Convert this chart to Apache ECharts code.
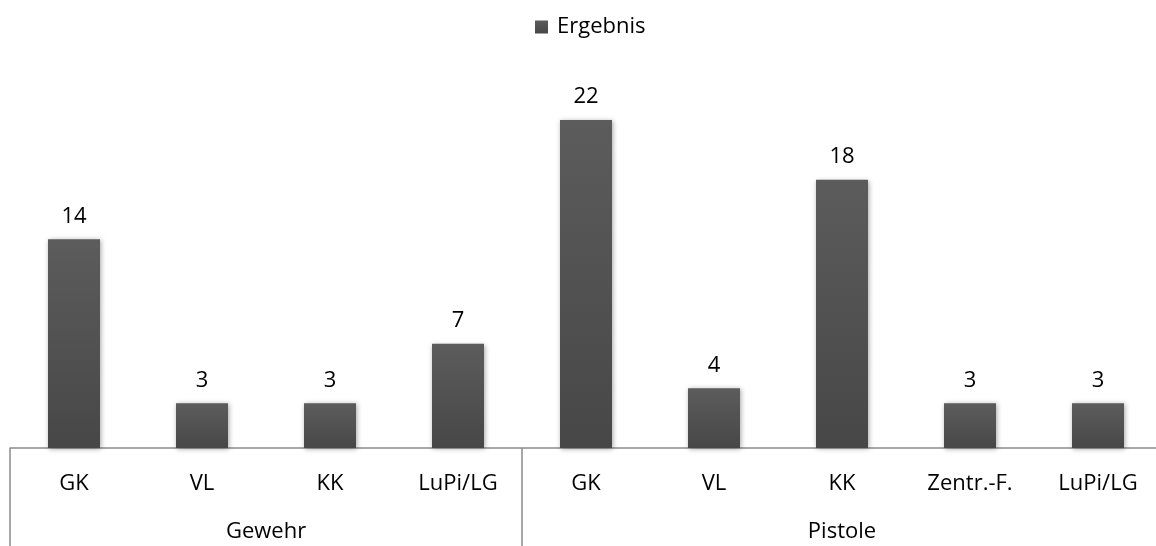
<!DOCTYPE html>
<html><head><meta charset="utf-8">
<script src="https://cdn.jsdelivr.net/npm/echarts@6/dist/echarts.min.js"></script>
<style>html,body{margin:0;padding:0;background:#fff}#c{width:1156px;height:546px}</style>
</head><body><div id="c"></div>
<script>
const categories = ["GK","VL","KK","LuPi/LG","GK","VL","KK","Zentr.-F.","LuPi/LG"];
const values = [14,3,3,7,22,4,18,3,3];
const groups = ["Gewehr","Pistole"];
const groupSizes = [4,5];
const seriesName = "Ergebnis";

const bounds = [0]; groupSizes.forEach(s => bounds.push(bounds[bounds.length-1] + s));
const centers = groupSizes.map((s,i) => bounds[i] + s/2);
const FONT = "'Open Sans', Lato, sans-serif";
const FS = 22;

const barColor = new echarts.graphic.LinearGradient(0,0,0,1,[{offset:0,color:'#5c5c5c'},{offset:1,color:'#474747'}]);

const chart = echarts.init(document.getElementById('c'));
chart.setOption({
  animation: false,
  legend: { top: 11, left: 530, itemWidth: 13, itemHeight: 13, icon: 'rect',
    textStyle: { fontFamily: FONT, fontSize: FS, color: '#000', padding: [0,0,0,4] }, data: [seriesName] },
  grid: { left: 10, width: 1152, top: 120, height: 328, outerBoundsMode: 'none', containLabel: false },
  xAxis: [
    { type: 'category', data: categories, position: 'bottom',
      axisLine: { lineStyle: { color: '#8c8c8c', width: 1.5 } },
      axisTick: { show: false },
      axisLabel: { interval: 0, margin: 25, fontFamily: FONT, fontSize: FS, color: '#000' } },
    { type: 'value', min: 0, max: bounds[bounds.length-1], position: 'bottom',
      axisLine: { show: false }, splitLine: { show: false },
      axisTick: { show: true, customValues: bounds, length: 100, lineStyle: { color: '#8c8c8c', width: 1.5 } },
      axisLabel: { customValues: centers, margin: 73, fontFamily: FONT, fontSize: FS, color: '#000',
        formatter: v => groups[centers.indexOf(v)] } }
  ],
  yAxis: { type: 'value', min: 0, max: 22, show: false, splitLine: { show: false } },
  series: [{
    name: seriesName, type: 'bar', data: values, barWidth: 52, xAxisIndex: 0,
    itemStyle: { color: barColor, shadowColor: 'rgba(0,0,0,0.35)', shadowBlur: 5, shadowOffsetX: 1, shadowOffsetY: 1 },
    label: { show: true, position: 'top', distance: 12, fontFamily: FONT, fontSize: FS, color: '#000' }
  }]
});
</script></body></html>
